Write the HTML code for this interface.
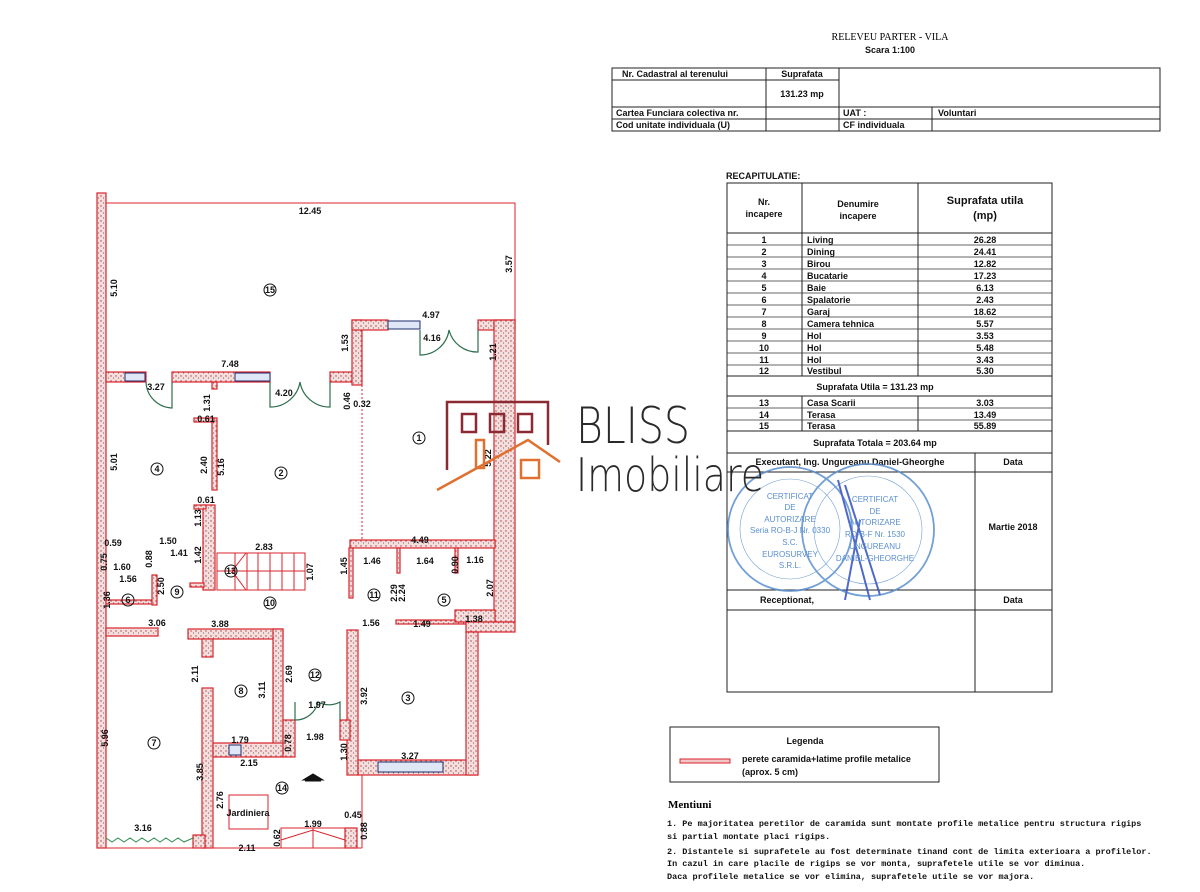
<!DOCTYPE html>
<html><head><meta charset="utf-8"><style>
body{margin:0;background:#fff;}
svg{display:block;font-family:"Liberation Sans",sans-serif;}
.w{fill:url(#hat);stroke:#d8242c;stroke-width:1.2;}
.t{font-size:9px;font-weight:bold;fill:#111;}
.s{font-size:9px;font-weight:bold;fill:#111;}
.g{stroke:#222;stroke-width:1;fill:none;}
.c{fill:none;stroke:#111;stroke-width:1;}
.win{fill:#dfe6f5;stroke:#1e2e6e;stroke-width:1;}
.dr{fill:none;stroke:#2e6e4e;stroke-width:1.2;}
</style></head><body>
<svg width="1200" height="892" viewBox="0 0 1200 892">
<defs>
<pattern id="hat" width="5" height="5" patternUnits="userSpaceOnUse">
<rect width="5" height="5" fill="#f4dede"/>
<circle cx="1" cy="1" r="0.7" fill="#b04040"/><circle cx="3.5" cy="3" r="0.6" fill="#8a6a6a"/>
</pattern>
</defs>
<!-- header -->
<text x="890" y="40" font-family="Liberation Serif" font-size="10" text-anchor="middle">RELEVEU PARTER - VILA</text>
<text x="890" y="53" class="t" font-size="10" text-anchor="middle">Scara 1:100</text>
<g class="g" stroke-width="1.3">
<rect x="612" y="68" width="548" height="63"/>
<line x1="612" y1="80" x2="839" y2="80"/><line x1="612" y1="107" x2="1160" y2="107"/><line x1="612" y1="119" x2="1160" y2="119"/>
<line x1="766" y1="68" x2="766" y2="131"/><line x1="839" y1="68" x2="839" y2="131"/><line x1="932" y1="107" x2="932" y2="131"/>
</g>
<g class="t">
<text x="622" y="77">Nr. Cadastral al terenului</text><text x="802" y="77" text-anchor="middle">Suprafata</text>
<text x="802" y="97" text-anchor="middle">131.23 mp</text>
<text x="616" y="116">Cartea Funciara colectiva nr.</text><text x="843" y="116">UAT :</text><text x="938" y="116">Voluntari</text>
<text x="616" y="128">Cod unitate individuala (U)</text><text x="843" y="128">CF individuala</text>
</g>
<!-- recap -->
<text x="726" y="179" class="t" font-size="8">RECAPITULATIE:</text>
<g class="g" stroke-width="1.3">
<rect x="727" y="183" width="325" height="509"/>
<line x1="802" y1="183" x2="802" y2="376"/><line x1="918" y1="183" x2="918" y2="376"/>
<line x1="802" y1="396" x2="802" y2="431"/><line x1="918" y1="396" x2="918" y2="431"/>
<line x1="727" y1="233" x2="1052" y2="233"/>
<line x1="727" y1="376" x2="1052" y2="376"/><line x1="727" y1="396" x2="1052" y2="396"/>
<line x1="727" y1="431" x2="1052" y2="431"/><line x1="727" y1="453" x2="1052" y2="453"/>
<line x1="727" y1="472" x2="1052" y2="472"/><line x1="727" y1="590" x2="1052" y2="590"/>
<line x1="727" y1="610" x2="1052" y2="610"/><line x1="975" y1="453" x2="975" y2="692"/>
</g>
<g stroke="#333" stroke-width="0.7">
<line x1="727" y1="245" x2="1052" y2="245"/><line x1="727" y1="257" x2="1052" y2="257"/><line x1="727" y1="269" x2="1052" y2="269"/><line x1="727" y1="281" x2="1052" y2="281"/><line x1="727" y1="293" x2="1052" y2="293"/><line x1="727" y1="305" x2="1052" y2="305"/><line x1="727" y1="317" x2="1052" y2="317"/><line x1="727" y1="329" x2="1052" y2="329"/><line x1="727" y1="341" x2="1052" y2="341"/><line x1="727" y1="353" x2="1052" y2="353"/><line x1="727" y1="365" x2="1052" y2="365"/>
<line x1="727" y1="408" x2="1052" y2="408"/><line x1="727" y1="420" x2="1052" y2="420"/>
</g>
<g class="t" font-size="10" text-anchor="middle">
<text x="764" y="205">Nr.</text><text x="764" y="217">incapere</text>
<text x="858" y="207">Denumire</text><text x="858" y="219">incapere</text>
<text x="985" y="204" font-size="11">Suprafata utila</text><text x="985" y="219" font-size="11">(mp)</text>
</g>
<g class="t" font-size="8.5">
<g text-anchor="middle">
<text x="764" y="243">1</text><text x="764" y="255">2</text><text x="764" y="267">3</text><text x="764" y="279">4</text><text x="764" y="291">5</text><text x="764" y="303">6</text><text x="764" y="315">7</text><text x="764" y="327">8</text><text x="764" y="339">9</text><text x="764" y="351">10</text><text x="764" y="363">11</text><text x="764" y="374">12</text>
<text x="764" y="406">13</text><text x="764" y="418">14</text><text x="764" y="429">15</text>
<text x="985" y="243">26.28</text><text x="985" y="255">24.41</text><text x="985" y="267">12.82</text><text x="985" y="279">17.23</text><text x="985" y="291">6.13</text><text x="985" y="303">2.43</text><text x="985" y="315">18.62</text><text x="985" y="327">5.57</text><text x="985" y="339">3.53</text><text x="985" y="351">5.48</text><text x="985" y="363">3.43</text><text x="985" y="374">5.30</text>
<text x="985" y="406">3.03</text><text x="985" y="418">13.49</text><text x="985" y="429">55.89</text>
<text x="875" y="390">Suprafata Utila =  131.23 mp</text>
<text x="875" y="446">Suprafata Totala = 203.64 mp</text>
<text x="850" y="465">Executant, Ing. Ungureanu Daniel-Gheorghe</text>
<text x="1013" y="465">Data</text>
<text x="1013" y="530">Martie 2018</text>
<text x="787" y="603">Receptionat,</text><text x="1013" y="603">Data</text>
</g>
<text x="807" y="243">Living</text><text x="807" y="255">Dining</text><text x="807" y="267">Birou</text><text x="807" y="279">Bucatarie</text><text x="807" y="291">Baie</text><text x="807" y="303">Spalatorie</text><text x="807" y="315">Garaj</text><text x="807" y="327">Camera tehnica</text><text x="807" y="339">Hol</text><text x="807" y="351">Hol</text><text x="807" y="363">Hol</text><text x="807" y="374">Vestibul</text>
<text x="807" y="406">Casa Scarii</text><text x="807" y="418">Terasa</text><text x="807" y="429">Terasa</text>
</g>
<!-- stamps -->
<g fill="none" stroke="#5a8fd0" stroke-width="1.8" opacity="0.85">
<circle cx="790" cy="529" r="62"/><circle cx="790" cy="529" r="50" stroke-width="0.6"/>
<circle cx="868" cy="530" r="66"/><circle cx="868" cy="530" r="54" stroke-width="0.6"/>
<path d="M838 480 L870 600 M845 485 L880 595 M860 520 L845 600" stroke="#3050c0" stroke-width="2"/>
</g>
<g font-size="8" fill="#5a8fd0" text-anchor="middle">
<text x="790" y="499">CERTIFICAT</text><text x="790" y="510">DE</text><text x="790" y="522">AUTORIZARE</text><text x="790" y="533">Seria RO-B-J Nr. 0330</text><text x="790" y="545">S.C.</text><text x="790" y="557">EUROSURVEY</text><text x="790" y="568">S.R.L.</text>
<text x="875" y="502">CERTIFICAT</text><text x="875" y="514">DE</text><text x="875" y="525">AUTORIZARE</text><text x="875" y="537">RO-B-F Nr. 1530</text><text x="875" y="549">UNGUREANU</text><text x="875" y="561">DANIEL-GHEORGHE</text>
</g>
<!-- legend -->
<rect x="670" y="727" width="269" height="55" class="g" stroke-width="1.3"/>
<text x="805" y="744" class="t" font-size="8" text-anchor="middle">Legenda</text>
<rect x="680" y="759" width="50" height="4" fill="#f2c6c6" stroke="#d8242c"/>
<text x="742" y="762" class="t" font-size="8">perete caramida+latime profile metalice</text>
<text x="742" y="775" class="t" font-size="8">(aprox. 5 cm)</text>
<text x="668" y="808" font-family="Liberation Serif" font-weight="bold" font-size="11">Mentiuni</text>
<g font-family="Liberation Mono" font-weight="bold" font-size="8.5" fill="#111">
<text x="667" y="826">1. Pe majoritatea peretilor de caramida sunt montate profile metalice pentru structura rigips</text>
<text x="667" y="839">si partial montate placi rigips.</text>
<text x="667" y="854">2. Distantele si suprafetele au fost determinate tinand cont de limita exterioara a profilelor.</text>
<text x="667" y="866">In cazul in care placile de rigips se vor monta, suprafetele utile se vor diminua.</text>
<text x="667" y="879">Daca profilele metalice se vor elimina, suprafetele utile se vor majora.</text>
</g>
<!-- PLAN -->
<polyline points="106,203 515,203 515,320" fill="none" stroke="#d8242c" stroke-width="1"/>
<line x1="106" y1="848" x2="362" y2="848" stroke="#d8242c"/>
<line x1="362" y1="775" x2="362" y2="848" stroke="#d8242c"/>
<g class="w">
<rect x="97" y="193" width="9" height="655"/>
<rect x="106" y="372" width="40" height="10"/>
<rect x="172" y="372" width="98" height="10"/><rect x="212" y="382" width="5" height="7"/>
<rect x="330" y="372" width="25" height="10"/>
<rect x="352" y="320" width="10" height="65"/>
<rect x="352" y="320" width="36" height="10"/><rect x="478" y="320" width="37" height="10"/>
<rect x="494" y="320" width="21" height="302"/>
<rect x="212" y="418" width="5" height="72"/><rect x="194" y="418" width="20" height="4"/>
<rect x="203" y="505" width="12" height="85"/><rect x="194" y="505" width="12" height="4"/>
<rect x="190" y="583" width="14" height="4"/>
<rect x="350" y="540" width="145" height="8"/>
<rect x="349" y="548" width="4" height="50"/><rect x="397" y="548" width="3" height="25"/><rect x="455" y="548" width="3" height="25"/>
<rect x="396" y="620" width="99" height="4"/><rect x="455" y="610" width="40" height="12"/><rect x="466" y="622" width="49" height="10"/>
<rect x="106" y="600" width="50" height="4"/><rect x="152" y="575" width="5" height="30"/>
<rect x="106" y="628" width="52" height="8"/>
<rect x="188" y="629" width="95" height="10"/><rect x="273" y="629" width="10" height="125"/>
<rect x="202" y="639" width="11" height="18"/><rect x="202" y="688" width="11" height="160"/>
<rect x="213" y="743" width="70" height="14"/><rect x="283" y="720" width="12" height="37"/>
<rect x="347" y="630" width="11" height="145"/><rect x="358" y="760" width="120" height="15"/>
<rect x="466" y="632" width="12" height="143"/><rect x="340" y="720" width="10" height="20"/>
<rect x="193" y="835" width="12" height="13"/><rect x="345" y="828" width="12" height="20"/>
</g>
<g class="win">
<rect x="125" y="373" width="20" height="8"/><rect x="235" y="373" width="35" height="8"/>
<rect x="388" y="321" width="32" height="8"/><rect x="378" y="762" width="65" height="10"/>
<rect x="229" y="745" width="12" height="10"/>
</g>
<g class="dr">
<path d="M146 382 A27 27 0 0 0 172 408 L172 382"/>
<path d="M270 382 L270 407 A30 30 0 0 0 300 382 A30 30 0 0 0 330 407 L330 382"/>
<path d="M420 330 L420 355 A29 29 0 0 0 449 330 A29 29 0 0 0 478 352 L478 330"/>
<path d="M295 702 L295 720 A23 23 0 0 0 318 702 A23 23 0 0 0 340 702 L340 720"/>
</g>
<polyline points="106,838 112,842 118,838 124,842 130,838 136,842 142,838 148,842 154,838 160,842 166,838 172,842 178,838 184,842 193,838" fill="none" stroke="#2e8e4e"/>
<!-- stair -->
<g stroke="#d8242c" fill="none">
<rect x="217" y="553" width="88" height="37"/>
<path d="M235 553 V590 M247 553 V590 M258 553 V590 M270 553 V590 M282 553 V590 M294 553 V590 M217 571 H305 M246 553 L232 571 L246 590"/>
<rect x="281" y="828" width="64" height="20"/><path d="M313 828 V848 M281 840 L313 830 L345 840"/>
<rect x="229" y="795" width="39" height="34"/>
</g>
<line x1="362" y1="385" x2="362" y2="540" stroke="#d8242c" stroke-dasharray="2,2"/>
<path d="M303 780 L313 774 L323 780 Z M305 781 H321" fill="#111" stroke="#111"/>
<text x="248" y="816" class="t" font-size="7" text-anchor="middle">Jardiniera</text>
<!-- room numbers -->
<g class="c"><circle cx="270" cy="290" r="6"/><circle cx="419" cy="438" r="6"/><circle cx="281" cy="473" r="6"/><circle cx="157" cy="469" r="6"/><circle cx="408" cy="698" r="6"/><circle cx="444" cy="600" r="6"/><circle cx="128" cy="600" r="6"/><circle cx="154" cy="743" r="6"/><circle cx="241" cy="691" r="6"/><circle cx="177" cy="592" r="6"/><circle cx="270" cy="603" r="6"/><circle cx="374" cy="595" r="6"/><circle cx="315" cy="675" r="6"/><circle cx="231" cy="571" r="6"/><circle cx="282" cy="788" r="6"/></g>
<g class="t" font-size="8" text-anchor="middle">
<text x="270" y="293">15</text><text x="419" y="441">1</text><text x="281" y="476">2</text><text x="157" y="472">4</text><text x="408" y="701">3</text><text x="444" y="603">5</text><text x="128" y="603">6</text><text x="154" y="746">7</text><text x="241" y="694">8</text><text x="177" y="595">9</text><text x="270" y="606">10</text><text x="374" y="598">11</text><text x="315" y="678">12</text><text x="231" y="574">13</text><text x="282" y="791">14</text>
</g>
<!-- dims -->
<g class="s" text-anchor="middle">
<text x="310" y="214">12.45</text><text x="431" y="318">4.97</text><text x="432" y="341">4.16</text><text x="230" y="367">7.48</text>
<text x="156" y="390">3.27</text><text x="284" y="396">4.20</text><text x="362" y="407">0.32</text><text x="206" y="422">0.61</text><text x="206" y="503">0.61</text>
<text x="168" y="544">1.50</text><text x="179" y="556">1.41</text><text x="113" y="546">0.59</text><text x="122" y="570">1.60</text><text x="128" y="582">1.56</text>
<text x="264" y="550">2.83</text><text x="420" y="543">4.49</text><text x="372" y="564">1.46</text><text x="425" y="564">1.64</text><text x="475" y="563">1.16</text>
<text x="157" y="626">3.06</text><text x="220" y="627">3.88</text><text x="371" y="626">1.56</text><text x="422" y="627">1.49</text><text x="474" y="622">1.38</text>
<text x="317" y="708">1.97</text><text x="315" y="740">1.98</text><text x="240" y="743">1.79</text><text x="249" y="766">2.15</text><text x="410" y="759">3.27</text>
<text x="143" y="831">3.16</text><text x="247" y="851">2.11</text><text x="313" y="827">1.99</text><text x="353" y="818">0.45</text>
</g>
<g class="s" text-anchor="middle">
<text transform="translate(117,288) rotate(-90)">5.10</text><text transform="translate(512,264) rotate(-90)">3.57</text>
<text transform="translate(348,343) rotate(-90)">1.53</text><text transform="translate(496,352) rotate(-90)">1.21</text>
<text transform="translate(210,403) rotate(-90)">1.31</text><text transform="translate(350,401) rotate(-90)">0.46</text>
<text transform="translate(117,462) rotate(-90)">5.01</text><text transform="translate(207,465) rotate(-90)">2.40</text><text transform="translate(224,467) rotate(-90)">5.16</text>
<text transform="translate(491,458) rotate(-90)">5.22</text><text transform="translate(201,518) rotate(-90)">1.13</text>
<text transform="translate(107,562) rotate(-90)">0.75</text><text transform="translate(152,559) rotate(-90)">0.88</text><text transform="translate(201,555) rotate(-90)">1.42</text>
<text transform="translate(313,572) rotate(-90)">1.07</text><text transform="translate(347,566) rotate(-90)">1.45</text><text transform="translate(458,565) rotate(-90)">0.90</text>
<text transform="translate(397,593) rotate(-90)">2.29</text><text transform="translate(405,593) rotate(-90)">2.24</text><text transform="translate(493,588) rotate(-90)">2.07</text>
<text transform="translate(164,586) rotate(-90)">2.50</text><text transform="translate(110,600) rotate(-90)">1.36</text>
<text transform="translate(198,674) rotate(-90)">2.11</text><text transform="translate(265,690) rotate(-90)">3.11</text><text transform="translate(292,674) rotate(-90)">2.69</text>
<text transform="translate(367,696) rotate(-90)">3.92</text><text transform="translate(291,743) rotate(-90)">0.78</text><text transform="translate(347,752) rotate(-90)">1.30</text>
<text transform="translate(108,738) rotate(-90)">5.96</text><text transform="translate(203,772) rotate(-90)">3.85</text><text transform="translate(223,800) rotate(-90)">2.76</text>
<text transform="translate(280,838) rotate(-90)">0.62</text><text transform="translate(367,831) rotate(-90)">0.88</text>
</g>
<!-- logo -->
<g fill="none" stroke="#8b2a33" stroke-width="2.5">
<path d="M447 470 V402 H548 V445"/>
<rect x="462" y="414" width="14" height="18"/><rect x="490" y="414" width="14" height="18"/><rect x="518" y="414" width="14" height="18"/>
</g>
<g fill="none" stroke="#e07030" stroke-width="2.5">
<path d="M437 490 L528 440 L560 462"/><rect x="476" y="440" width="8" height="28"/><rect x="521" y="460" width="18" height="18"/>
</g>
<text x="576" y="443" font-size="50" fill="#2a2a2a" font-family="DejaVu Sans" font-weight="200" textLength="114" lengthAdjust="spacingAndGlyphs">BLISS</text>
<text x="576" y="491" font-size="46" fill="#2a2a2a" font-family="DejaVu Sans" font-weight="200" textLength="188" lengthAdjust="spacingAndGlyphs">Imobiliare</text>
</svg>
</body></html>
